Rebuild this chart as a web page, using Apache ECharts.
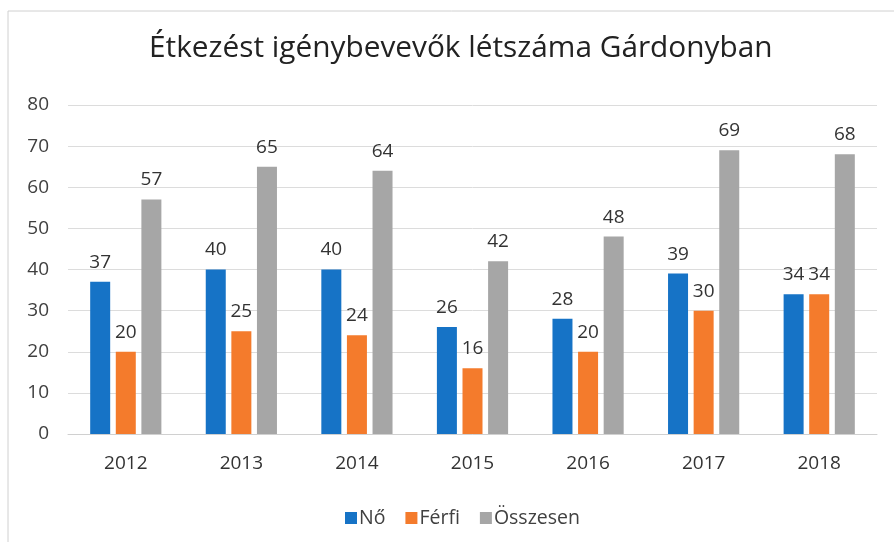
<!DOCTYPE html>
<html><head><meta charset="utf-8">
<script src="https://cdn.jsdelivr.net/npm/echarts@6/dist/echarts.min.js"></script>
<style>html,body{margin:0;padding:0;background:#fff}#c{width:894px;height:542px}</style>
</head><body><div id="c"></div>
<script>
const categories = ['2012','2013','2014','2015','2016','2017','2018'];
const seriesNames = ['Nő','Férfi','Összesen'];
const no = [37,40,40,26,28,39,34];
const ferfi = [20,25,24,16,20,30,34];
const osszesen = [57,65,64,42,48,69,68];
const yTicks = [0,10,20,30,40,50,60,70,80];

const colors = ['#1673c6','#f47b2c','#a6a6a6'];
const font = '"Open Sans", "Noto Sans", sans-serif';
const chart = echarts.init(document.getElementById('c'));
const mk = (name, data, i) => ({
  name, type:'bar', data, barWidth:20, barGap:'28%',
  itemStyle:{color:colors[i]},
  label:{show:true, position:'top', distance:10, color:'#333', fontSize:19, fontFamily:font},
});
chart.setOption({
  animation:false,
  textStyle:{fontFamily:font},
  title:{text:'Étkezést igénybevevők létszáma Gárdonyban', left:144, top:29,
    textStyle:{fontSize:29.8, fontWeight:'normal', color:'#222', fontFamily:font}},
  graphic:[{type:'rect', shape:{x:8,y:11,width:900,height:560}, style:{fill:'none', stroke:'#d0d0d0', lineWidth:1}}],
  grid:{left:68, right:17, top:105, bottom:108},
  legend:{top:503, left:340, itemWidth:12, itemHeight:12, itemGap:20, icon:'rect',
    textStyle:{fontSize:19.5, color:'#404040', fontFamily:font, padding:[0,0,0,-3]}, data:seriesNames},
  xAxis:{type:'category', data:categories,
    axisLine:{lineStyle:{color:'#d0d0d0'}}, axisTick:{show:false},
    axisLabel:{fontSize:19, color:'#333', margin:20, fontFamily:font}},
  yAxis:{type:'value', min:yTicks[0], max:yTicks[yTicks.length-1], interval:10,
    axisLine:{show:false}, axisTick:{show:false},
    splitLine:{lineStyle:{color:'#dcdcdc'}},
    axisLabel:{fontSize:19, color:'#404040', margin:19, fontFamily:font}},
  series:[mk(seriesNames[0], no, 0), mk(seriesNames[1], ferfi, 1), mk(seriesNames[2], osszesen, 2)]
});
</script></body></html>
